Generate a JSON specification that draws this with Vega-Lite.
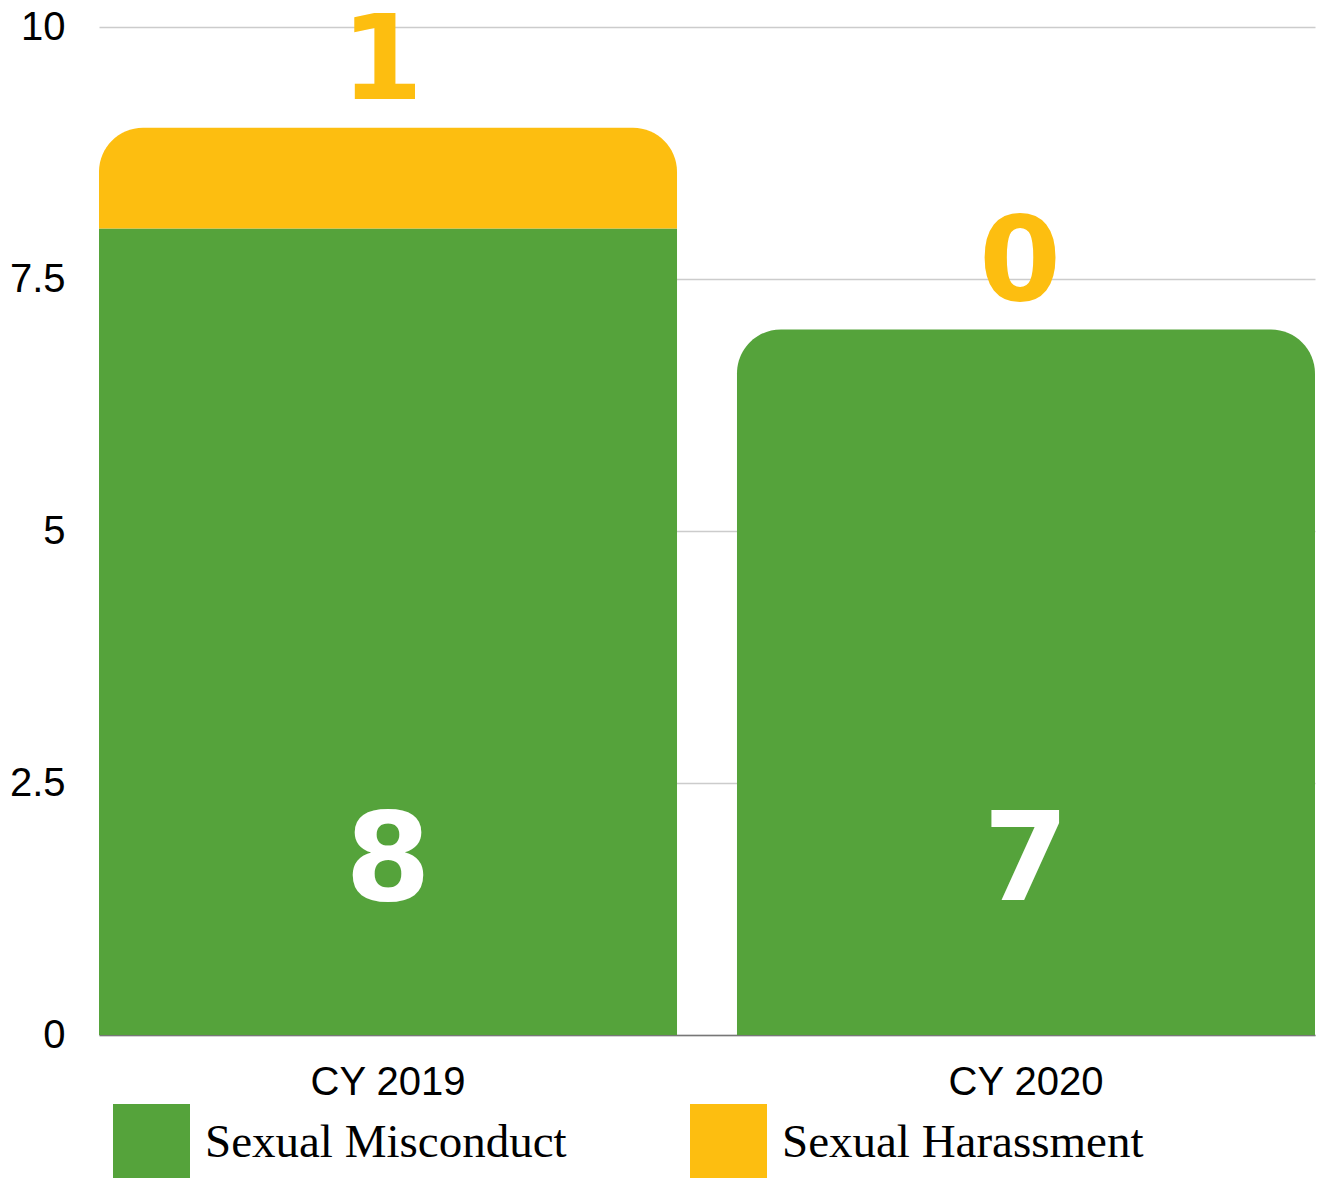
{
  "$schema": "https://vega.github.io/schema/vega-lite/v6.json",
  "width": 1216,
  "height": 1008,
  "autosize": {"type": "none"},
  "padding": {"left": 99, "top": 27, "right": 2, "bottom": 143},
  "background": "white",
  "config": {"view": {"stroke": null}, "font": "Liberation Sans"},
  "data": {
    "values": [
      {"year": "CY 2019", "type": "Sexual Misconduct", "count": 8},
      {"year": "CY 2019", "type": "Sexual Harassment", "count": 1},
      {"year": "CY 2020", "type": "Sexual Misconduct", "count": 7},
      {"year": "CY 2020", "type": "Sexual Harassment", "count": 0}
    ]
  },
  "transform": [
    {"stack": "count", "groupby": ["year"], "sort": [{"field": "type", "order": "descending"}], "as": ["y0", "y1"]},
    {"joinaggregate": [{"op": "max", "field": "y1", "as": "top"}], "groupby": ["year"]}
  ],
  "encoding": {
    "x": {
      "field": "year", "type": "nominal", "title": null,
      "scale": {"paddingInner": 0.094, "paddingOuter": 0},
      "axis": {"labelAngle": 0, "labelFontSize": 40, "labelColor": "#000000", "ticks": false, "domainColor": "#777777", "domainWidth": 1.5, "labelPadding": 27, "labelFont": "Liberation Sans"}
    }
  },
  "layer": [
    {
      "transform": [{"filter": "datum.y1 < datum.top"}],
      "mark": {"type": "bar"},
      "encoding": {
        "y": {"field": "y0", "type": "quantitative", "title": null,
          "scale": {"domain": [0, 10]},
          "axis": {"values": [0, 2.5, 5, 7.5, 10], "format": "~g", "labelFontSize": 40, "labelColor": "#000000", "ticks": false, "domain": false, "gridColor": "#cccccc", "gridWidth": 1.5, "labelPadding": 34, "labelFont": "Liberation Sans"}},
        "y2": {"field": "y1"},
        "color": {
          "field": "type", "type": "nominal", "title": null,
          "scale": {"domain": ["Sexual Misconduct", "Sexual Harassment"], "range": ["#55A33B", "#FDBE10"]},
          "legend": {"orient": "none", "direction": "horizontal", "legendX": 14, "legendY": 1077, "symbolType": "square", "symbolSize": 5929, "symbolStrokeWidth": 0, "symbolOpacity": 1, "labelFont": "Liberation Serif", "labelFontSize": 47, "labelColor": "#000000", "labelOffset": 15, "columnPadding": 123, "labelLimit": 600}
        }
      }
    },
    {
      "transform": [{"filter": "datum.y1 == datum.top && datum.count > 0"}],
      "mark": {"type": "bar", "cornerRadiusTopLeft": 44, "cornerRadiusTopRight": 44},
      "encoding": {
        "y": {"field": "y0", "type": "quantitative"},
        "y2": {"field": "y1"},
        "color": {"field": "type", "type": "nominal"}
      }
    },
    {
      "transform": [{"filter": "datum.type == 'Sexual Harassment'"}],
      "mark": {"type": "text", "font": "DejaVu Sans", "fontWeight": "bold", "fontSize": 118, "color": "#FDBE10", "baseline": "alphabetic", "dy": -29, "dx": -6},
      "encoding": {
        "y": {"field": "y1", "type": "quantitative"},
        "text": {"field": "count", "type": "quantitative"}
      }
    },
    {
      "transform": [{"filter": "datum.type == 'Sexual Misconduct'"}],
      "mark": {"type": "text", "font": "DejaVu Sans", "fontWeight": "bold", "fontSize": 123, "color": "#ffffff", "baseline": "alphabetic"},
      "encoding": {
        "y": {"datum": 1.34},
        "text": {"field": "count", "type": "quantitative"}
      }
    }
  ]
}
